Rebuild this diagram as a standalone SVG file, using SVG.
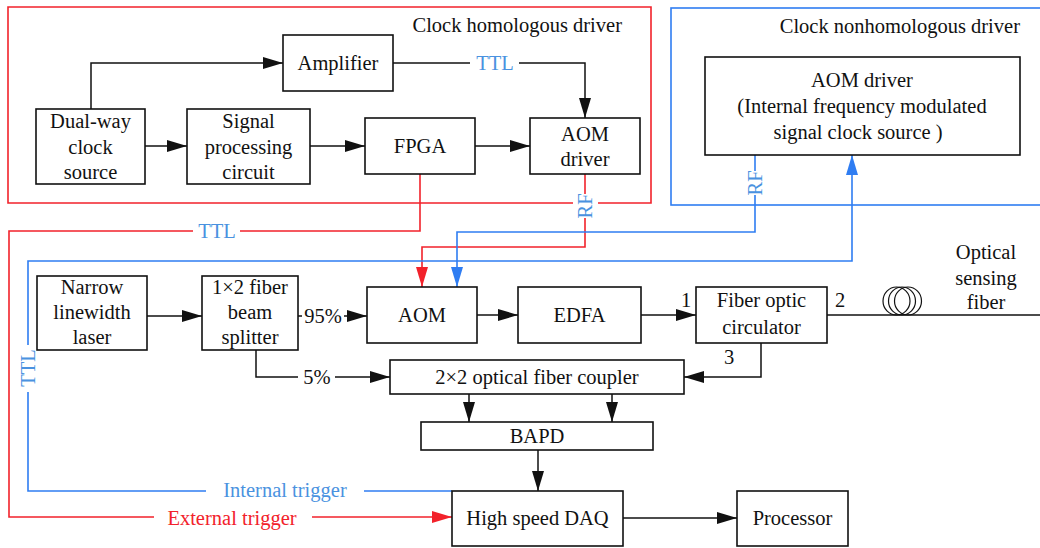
<svg xmlns="http://www.w3.org/2000/svg" width="1040" height="548" viewBox="0 0 1040 548" font-family="'Liberation Serif', 'Times New Roman', serif" font-size="20.5">
  <style>
    .box { fill: #fff; stroke: #111; stroke-width: 1.6; }
    .frame-red { fill: none; stroke: #f2222b; stroke-width: 1.6; }
    .frame-blue { fill: none; stroke: #2f7df2; stroke-width: 1.6; }
    .k { fill: none; stroke: #111; stroke-width: 1.5; }
    .r { fill: none; stroke: #f2222b; stroke-width: 1.6; }
    .b { fill: none; stroke: #2f7df2; stroke-width: 1.6; }
    .lbl-blue { fill: #4a92e0; }
    .lbl-red { fill: #f2222b; }
  </style>
  <defs>
    <marker id="ak" markerUnits="userSpaceOnUse" markerWidth="20" markerHeight="12" refX="20" refY="6" orient="auto">
      <path d="M0,0 L20,6 L0,12 z" fill="#111"/>
    </marker>
    <marker id="ar" markerUnits="userSpaceOnUse" markerWidth="20" markerHeight="12" refX="20" refY="6" orient="auto">
      <path d="M0,0 L20,6 L0,12 z" fill="#f2222b"/>
    </marker>
    <marker id="ab" markerUnits="userSpaceOnUse" markerWidth="20" markerHeight="12" refX="20" refY="6" orient="auto">
      <path d="M0,0 L20,6 L0,12 z" fill="#2f7df2"/>
    </marker>
  </defs>

  <!-- driver frames -->
  <g id="frame-homologous" fill="#111" text-anchor="end">
    <path class="frame-red" d="M573,203 H8 V7 H651 V203 H598"/>
    <text x="622" y="32">Clock homologous driver</text>
  </g>
  <g id="frame-nonhomologous" fill="#111" text-anchor="end">
    <rect class="frame-blue" x="671" y="8" width="400" height="197"/>
    <text x="1020" y="33">Clock nonhomologous driver</text>
  </g>

  <!-- connectors -->
  <g id="connectors" text-anchor="middle" fill="#111">
    <!-- black signal / optical paths -->
    <path class="k" d="M91,109 V63 H283" marker-end="url(#ak)"/>
    <path class="k" d="M393,63 H470"/>
    <path class="k" d="M519,63 H585 V118" marker-end="url(#ak)"/>
    <path class="k" d="M145,146 H187" marker-end="url(#ak)"/>
    <path class="k" d="M310,146 H365" marker-end="url(#ak)"/>
    <path class="k" d="M475,146 H530" marker-end="url(#ak)"/>
    <path class="k" d="M147,316 H202" marker-end="url(#ak)"/>
    <path class="k" d="M298,316 H302"/>
    <path class="k" d="M344,316 H367" marker-end="url(#ak)"/>
    <path class="k" d="M477,315 H518" marker-end="url(#ak)"/>
    <path class="k" d="M641,315 H696" marker-end="url(#ak)"/>
    <path class="k" d="M827,315 H1040"/>
    <path class="k" d="M256,350 V377 H298"/>
    <path class="k" d="M335,377 H390" marker-end="url(#ak)"/>
    <path class="k" d="M761,343 V377 H684" marker-end="url(#ak)"/>
    <path class="k" d="M469,394 V422" marker-end="url(#ak)"/>
    <path class="k" d="M612,394 V422" marker-end="url(#ak)"/>
    <path class="k" d="M538,450 V491" marker-end="url(#ak)"/>
    <path class="k" d="M623,518 H737" marker-end="url(#ak)"/>

    <!-- red: FPGA TTL to external trigger -->
    <path class="r" d="M420,174 V231 H240"/>
    <path class="r" d="M193,231 H9 V517 H154"/>
    <path class="r" d="M312,517 H452" marker-end="url(#ar)"/>
    <!-- red: homologous RF to AOM -->
    <path class="r" d="M585,174 V194"/>
    <path class="r" d="M585,218 V247 H422 V287" marker-end="url(#ar)"/>

    <!-- blue: nonhomologous RF to AOM -->
    <path class="b" d="M755,155 V171"/>
    <path class="b" d="M755,195 V232 H457 V287" marker-end="url(#ab)"/>
    <!-- blue: internal trigger TTL back to AOM driver -->
    <path class="b" d="M452,491 H364"/>
    <path class="b" d="M206,491 H28 V392"/>
    <path class="b" d="M28,345 V261 H852 V155" marker-end="url(#ab)"/>

    <!-- fiber coil -->
    <g class="k" style="stroke-width:1.2">
      <ellipse cx="896.5" cy="301" rx="13.5" ry="14"/>
      <ellipse cx="902" cy="301" rx="13.5" ry="14"/>
      <ellipse cx="908" cy="301" rx="13.5" ry="14"/>
    </g>

    <!-- connector labels -->
    <text class="lbl-blue" x="495" y="70">TTL</text>
    <text class="lbl-blue" x="217" y="238">TTL</text>
    <text class="lbl-blue" transform="translate(28,368) rotate(-90)" x="0" y="7">TTL</text>
    <text class="lbl-blue" transform="translate(585,206) rotate(-90)" x="0" y="7">RF</text>
    <text class="lbl-blue" transform="translate(755,183) rotate(-90)" x="0" y="7">RF</text>
    <text class="lbl-blue" x="285" y="497">Internal trigger</text>
    <text class="lbl-red" x="232" y="525">External trigger</text>
    <text x="323" y="323">95%</text>
    <text x="317" y="384">5%</text>
    <text x="686" y="307">1</text>
    <text x="840" y="307">2</text>
    <text x="729" y="364">3</text>
    <text x="986" y="259">Optical</text>
    <text x="986" y="285">sensing</text>
    <text x="986" y="309">fiber</text>
  </g>

  <g id="nodes" text-anchor="middle" fill="#111">
    <!-- homologous driver nodes -->
    <g id="amplifier">
      <rect class="box" x="283" y="35" width="110" height="56"/>
      <text x="338" y="70">Amplifier</text>
    </g>
    <g id="dual-way-clock">
      <rect class="box" x="36" y="109" width="109" height="75"/>
      <text x="90.5" y="128">Dual-way</text>
      <text x="90.5" y="153.5">clock</text>
      <text x="90.5" y="179">source</text>
    </g>
    <g id="signal-processing">
      <rect class="box" x="187" y="109" width="123" height="75"/>
      <text x="248.5" y="128">Signal</text>
      <text x="248.5" y="153.5">processing</text>
      <text x="248.5" y="179">circuit</text>
    </g>
    <g id="fpga">
      <rect class="box" x="365" y="118" width="110" height="56"/>
      <text x="420" y="153">FPGA</text>
    </g>
    <g id="aom-driver-homologous">
      <rect class="box" x="530" y="118" width="110" height="56"/>
      <text x="585" y="141">AOM</text>
      <text x="585" y="166">driver</text>
    </g>

    <!-- nonhomologous driver node -->
    <g id="aom-driver-internal">
      <rect class="box" x="705" y="57" width="315" height="98"/>
      <text x="862" y="87">AOM driver</text>
      <text x="862" y="113">(Internal frequency modulated</text>
      <text x="858" y="139">signal clock source<tspan dx="5">)</tspan></text>
    </g>

    <!-- optical path nodes -->
    <g id="laser">
      <rect class="box" x="37" y="276" width="110" height="74"/>
      <text x="92" y="294">Narrow</text>
      <text x="92" y="319">linewidth</text>
      <text x="92" y="344">laser</text>
    </g>
    <g id="beam-splitter">
      <rect class="box" x="202" y="276" width="96" height="74"/>
      <text x="250" y="294">1×2 fiber</text>
      <text x="250" y="319">beam</text>
      <text x="250" y="344">splitter</text>
    </g>
    <g id="aom">
      <rect class="box" x="367" y="287" width="110" height="56"/>
      <text x="422" y="322">AOM</text>
    </g>
    <g id="edfa">
      <rect class="box" x="518" y="287" width="123" height="56"/>
      <text x="579.5" y="322">EDFA</text>
    </g>
    <g id="circulator">
      <rect class="box" x="696" y="287" width="131" height="56"/>
      <text x="761.5" y="307">Fiber optic</text>
      <text x="761.5" y="334">circulator</text>
    </g>
    <g id="coupler">
      <rect class="box" x="390" y="360" width="294" height="34"/>
      <text x="537" y="384">2×2 optical fiber coupler</text>
    </g>
    <g id="bapd">
      <rect class="box" x="421" y="422" width="232" height="28"/>
      <text x="537" y="443">BAPD</text>
    </g>
    <g id="daq">
      <rect class="box" x="452" y="491" width="171" height="55"/>
      <text x="537.5" y="525">High speed DAQ</text>
    </g>
    <g id="processor">
      <rect class="box" x="737" y="491" width="111" height="55"/>
      <text x="792.5" y="525">Processor</text>
    </g>
  </g>
</svg>
